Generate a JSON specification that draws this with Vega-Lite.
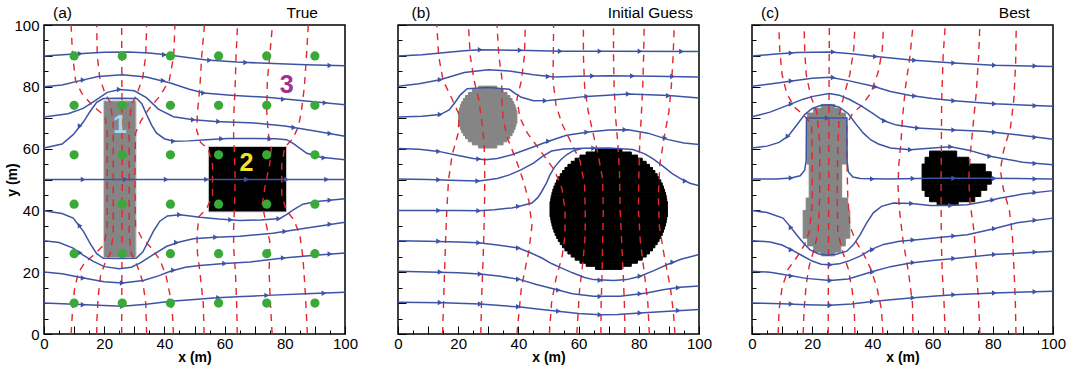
{
"$schema": "https://vega.github.io/schema/vega-lite/v6.json",
"padding": {"left": 5, "top": 5, "right": 5, "bottom": 3},
"spacing": 53,
"bounds": "flush",
"config": {
  "view": {"stroke": "#000", "strokeWidth": 1.5},
  "font": "Liberation Sans",
  "axis": {"labelFont": "Liberation Sans", "labelFontSize": 15, "labelColor": "#000", "titleFont": "Liberation Sans", "titleFontSize": 14, "titleFontWeight": "bold", "titleColor": "#000", "tickColor": "#000", "grid": false, "domain": false}
},
"datasets": {
"shapes": [
{"p":"a","k":"g","x":19.8,"x2":30.6,"y":24.7,"y2":75.5},
{"p":"a","k":"k","x":54.6,"x2":80.6,"y":39.5,"y2":60.7},
{"p":"b","k":"g","x":26.77,"x2":32.83,"y":60.2,"y2":61.2},
{"p":"b","k":"g","x":24.69,"x2":34.91,"y":61.2,"y2":62.2},
{"p":"b","k":"g","x":23.38,"x2":36.22,"y":62.2,"y2":63.2},
{"p":"b","k":"g","x":22.43,"x2":37.17,"y":63.2,"y2":64.2},
{"p":"b","k":"g","x":21.7,"x2":37.9,"y":64.2,"y2":65.2},
{"p":"b","k":"g","x":21.14,"x2":38.46,"y":65.2,"y2":66.2},
{"p":"b","k":"g","x":20.71,"x2":38.89,"y":66.2,"y2":67.2},
{"p":"b","k":"g","x":20.41,"x2":39.19,"y":67.2,"y2":68.2},
{"p":"b","k":"g","x":20.1,"x2":39.5,"y":68.2,"y2":72.2},
{"p":"b","k":"g","x":20.41,"x2":39.19,"y":72.2,"y2":73.2},
{"p":"b","k":"g","x":20.71,"x2":38.89,"y":73.2,"y2":74.2},
{"p":"b","k":"g","x":21.14,"x2":38.46,"y":74.2,"y2":75.2},
{"p":"b","k":"g","x":21.7,"x2":37.9,"y":75.2,"y2":76.2},
{"p":"b","k":"g","x":22.43,"x2":37.17,"y":76.2,"y2":77.2},
{"p":"b","k":"g","x":23.38,"x2":36.22,"y":77.2,"y2":78.2},
{"p":"b","k":"g","x":24.69,"x2":34.91,"y":78.2,"y2":79.2},
{"p":"b","k":"g","x":26.77,"x2":32.83,"y":79.2,"y2":80.2},
{"p":"b","k":"k","x":65.6,"x2":74.4,"y":20.9,"y2":21.9},
{"p":"b","k":"k","x":62.5,"x2":77.5,"y":21.9,"y2":22.9},
{"p":"b","k":"k","x":60.45,"x2":79.55,"y":22.9,"y2":23.9},
{"p":"b","k":"k","x":58.85,"x2":81.15,"y":23.9,"y2":24.9},
{"p":"b","k":"k","x":57.55,"x2":82.45,"y":24.9,"y2":25.9},
{"p":"b","k":"k","x":56.45,"x2":83.55,"y":25.9,"y2":26.9},
{"p":"b","k":"k","x":55.45,"x2":84.55,"y":26.9,"y2":27.9},
{"p":"b","k":"k","x":54.65,"x2":85.35,"y":27.9,"y2":28.9},
{"p":"b","k":"k","x":53.9,"x2":86.1,"y":28.9,"y2":29.9},
{"p":"b","k":"k","x":53.25,"x2":86.75,"y":29.9,"y2":30.9},
{"p":"b","k":"k","x":52.7,"x2":87.3,"y":30.9,"y2":31.9},
{"p":"b","k":"k","x":52.2,"x2":87.8,"y":31.9,"y2":32.9},
{"p":"b","k":"k","x":51.8,"x2":88.2,"y":32.9,"y2":33.9},
{"p":"b","k":"k","x":51.45,"x2":88.55,"y":33.9,"y2":34.9},
{"p":"b","k":"k","x":51.15,"x2":88.85,"y":34.9,"y2":35.9},
{"p":"b","k":"k","x":50.9,"x2":89.1,"y":35.9,"y2":36.9},
{"p":"b","k":"k","x":50.75,"x2":89.25,"y":36.9,"y2":37.9},
{"p":"b","k":"k","x":50.5,"x2":89.5,"y":37.9,"y2":42.9},
{"p":"b","k":"k","x":50.75,"x2":89.25,"y":42.9,"y2":43.9},
{"p":"b","k":"k","x":50.9,"x2":89.1,"y":43.9,"y2":44.9},
{"p":"b","k":"k","x":51.15,"x2":88.85,"y":44.9,"y2":45.9},
{"p":"b","k":"k","x":51.45,"x2":88.55,"y":45.9,"y2":46.9},
{"p":"b","k":"k","x":51.8,"x2":88.2,"y":46.9,"y2":47.9},
{"p":"b","k":"k","x":52.2,"x2":87.8,"y":47.9,"y2":48.9},
{"p":"b","k":"k","x":52.7,"x2":87.3,"y":48.9,"y2":49.9},
{"p":"b","k":"k","x":53.25,"x2":86.75,"y":49.9,"y2":50.9},
{"p":"b","k":"k","x":53.9,"x2":86.1,"y":50.9,"y2":51.9},
{"p":"b","k":"k","x":54.65,"x2":85.35,"y":51.9,"y2":52.9},
{"p":"b","k":"k","x":55.45,"x2":84.55,"y":52.9,"y2":53.9},
{"p":"b","k":"k","x":56.45,"x2":83.55,"y":53.9,"y2":54.9},
{"p":"b","k":"k","x":57.55,"x2":82.45,"y":54.9,"y2":55.9},
{"p":"b","k":"k","x":58.85,"x2":81.15,"y":55.9,"y2":56.9},
{"p":"b","k":"k","x":60.45,"x2":79.55,"y":56.9,"y2":57.9},
{"p":"b","k":"k","x":62.5,"x2":77.5,"y":57.9,"y2":58.9},
{"p":"b","k":"k","x":65.6,"x2":74.4,"y":58.9,"y2":59.9},
{"p":"c","k":"g","x":23,"x2":27.5,"y":73,"y2":74.3},
{"p":"c","k":"g","x":20.5,"x2":29.5,"y":71.5,"y2":73},
{"p":"c","k":"g","x":18.5,"x2":31,"y":70,"y2":71.5},
{"p":"c","k":"g","x":18.3,"x2":31.5,"y":55,"y2":70},
{"p":"c","k":"g","x":19,"x2":29.8,"y":44,"y2":55},
{"p":"c","k":"g","x":18,"x2":31.8,"y":40,"y2":44},
{"p":"c","k":"g","x":17,"x2":32.5,"y":31,"y2":40},
{"p":"c","k":"g","x":18.5,"x2":31,"y":28.5,"y2":31},
{"p":"c","k":"g","x":20.5,"x2":29.5,"y":26.5,"y2":28.5},
{"p":"c","k":"g","x":23,"x2":27.5,"y":25.3,"y2":26.5},
{"p":"c","k":"k","x":59,"x2":68,"y":57.2,"y2":59.2},
{"p":"c","k":"k","x":57.5,"x2":72,"y":55,"y2":57.2},
{"p":"c","k":"k","x":56.5,"x2":77.5,"y":52.5,"y2":55},
{"p":"c","k":"k","x":56.5,"x2":79.5,"y":48.5,"y2":52.5},
{"p":"c","k":"k","x":56.5,"x2":78,"y":46.5,"y2":48.5},
{"p":"c","k":"k","x":57.5,"x2":76,"y":44.5,"y2":46.5},
{"p":"c","k":"k","x":59,"x2":74,"y":42.8,"y2":44.5},
{"p":"c","k":"k","x":61.5,"x2":68.5,"y":41.8,"y2":42.8}
],
"stream": [
{"p":"a","l":1,"x":0,"y":90},{"p":"a","l":1,"x":10,"y":90.6},{"p":"a","l":1,"x":20,"y":91.2},{"p":"a","l":1,"x":28,"y":91.3},{"p":"a","l":1,"x":35,"y":90.9},{"p":"a","l":1,"x":42,"y":90.2},{"p":"a","l":1,"x":54,"y":88.7},{"p":"a","l":1,"x":64,"y":88},{"p":"a","l":1,"x":74,"y":87.6},{"p":"a","l":1,"x":87,"y":87.1},{"p":"a","l":1,"x":100,"y":86.8},
{"p":"a","l":2,"x":0,"y":80},{"p":"a","l":2,"x":6,"y":80.6},{"p":"a","l":2,"x":12,"y":82},{"p":"a","l":2,"x":18,"y":83.3},{"p":"a","l":2,"x":26,"y":83.9},{"p":"a","l":2,"x":34,"y":83.2},{"p":"a","l":2,"x":42,"y":81.2},{"p":"a","l":2,"x":48,"y":79.3},{"p":"a","l":2,"x":53,"y":78},{"p":"a","l":2,"x":62,"y":77.3},{"p":"a","l":2,"x":74,"y":76.6},{"p":"a","l":2,"x":87,"y":75.4},{"p":"a","l":2,"x":100,"y":74.2},
{"p":"a","l":3,"x":0,"y":70.2},{"p":"a","l":3,"x":8,"y":71.3},{"p":"a","l":3,"x":13,"y":73},{"p":"a","l":3,"x":17,"y":75.5},{"p":"a","l":3,"x":21,"y":78.2},{"p":"a","l":3,"x":25.2,"y":79.1},{"p":"a","l":3,"x":30,"y":78.7},{"p":"a","l":3,"x":34,"y":76.5},{"p":"a","l":3,"x":38,"y":72.8},{"p":"a","l":3,"x":43,"y":70.3},{"p":"a","l":3,"x":49.6,"y":69.3},{"p":"a","l":3,"x":57,"y":68.8},{"p":"a","l":3,"x":70,"y":68.3},{"p":"a","l":3,"x":80,"y":67.3},{"p":"a","l":3,"x":89.5,"y":65.8},{"p":"a","l":3,"x":100,"y":64},
{"p":"a","l":4,"x":0,"y":60.2},{"p":"a","l":4,"x":6,"y":61.5},{"p":"a","l":4,"x":9.7,"y":64.5},{"p":"a","l":4,"x":13,"y":68.5},{"p":"a","l":4,"x":15.3,"y":72},{"p":"a","l":4,"x":17.5,"y":75},{"p":"a","l":4,"x":19.7,"y":76.2},{"p":"a","l":4,"x":25,"y":76.3},{"p":"a","l":4,"x":30.8,"y":76.2},{"p":"a","l":4,"x":32.5,"y":74.5},{"p":"a","l":4,"x":34.1,"y":71},{"p":"a","l":4,"x":35.8,"y":67.5},{"p":"a","l":4,"x":37.4,"y":65},{"p":"a","l":4,"x":40,"y":63.2},{"p":"a","l":4,"x":43,"y":62.4},{"p":"a","l":4,"x":48,"y":62.5},{"p":"a","l":4,"x":54,"y":62.9},{"p":"a","l":4,"x":61,"y":63.3},{"p":"a","l":4,"x":70,"y":63.3},{"p":"a","l":4,"x":77,"y":63.2},{"p":"a","l":4,"x":80.6,"y":62.9},{"p":"a","l":4,"x":83,"y":61.5},{"p":"a","l":4,"x":87.3,"y":58.5},{"p":"a","l":4,"x":92,"y":57.2},{"p":"a","l":4,"x":100,"y":56.4},
{"p":"a","l":5,"x":0,"y":50},{"p":"a","l":5,"x":100,"y":50},
{"p":"a","l":6,"x":0,"y":39.9},{"p":"a","l":6,"x":6,"y":39},{"p":"a","l":6,"x":9.7,"y":37.5},{"p":"a","l":6,"x":13.1,"y":33.2},{"p":"a","l":6,"x":15.5,"y":29},{"p":"a","l":6,"x":17.5,"y":26},{"p":"a","l":6,"x":19.7,"y":24.5},{"p":"a","l":6,"x":25,"y":24.4},{"p":"a","l":6,"x":30.6,"y":24.5},{"p":"a","l":6,"x":32.8,"y":26.5},{"p":"a","l":6,"x":34.1,"y":28.9},{"p":"a","l":6,"x":36.5,"y":33.5},{"p":"a","l":6,"x":38.5,"y":36.5},{"p":"a","l":6,"x":41,"y":38.2},{"p":"a","l":6,"x":45.2,"y":38.6},{"p":"a","l":6,"x":51.8,"y":37.8},{"p":"a","l":6,"x":58,"y":37.2},{"p":"a","l":6,"x":65.1,"y":36.7},{"p":"a","l":6,"x":72,"y":36.9},{"p":"a","l":6,"x":78.4,"y":37.4},{"p":"a","l":6,"x":80.8,"y":38.8},{"p":"a","l":6,"x":82.8,"y":40.2},{"p":"a","l":6,"x":86,"y":42},{"p":"a","l":6,"x":90.6,"y":42.9},{"p":"a","l":6,"x":100,"y":43.8},
{"p":"a","l":7,"x":0,"y":30.2},{"p":"a","l":7,"x":5,"y":29.6},{"p":"a","l":7,"x":9.7,"y":27.8},{"p":"a","l":7,"x":13,"y":25.5},{"p":"a","l":7,"x":16.4,"y":23.5},{"p":"a","l":7,"x":20,"y":21.8},{"p":"a","l":7,"x":25,"y":21.1},{"p":"a","l":7,"x":29,"y":21.6},{"p":"a","l":7,"x":32,"y":23},{"p":"a","l":7,"x":36.3,"y":25.7},{"p":"a","l":7,"x":40.8,"y":28.4},{"p":"a","l":7,"x":45,"y":29.8},{"p":"a","l":7,"x":49.6,"y":30.8},{"p":"a","l":7,"x":57,"y":31.3},{"p":"a","l":7,"x":65.1,"y":31.6},{"p":"a","l":7,"x":76,"y":32.6},{"p":"a","l":7,"x":87.3,"y":34.3},{"p":"a","l":7,"x":100,"y":36.2},
{"p":"a","l":8,"x":0,"y":20.1},{"p":"a","l":8,"x":6,"y":19.5},{"p":"a","l":8,"x":13.1,"y":18.1},{"p":"a","l":8,"x":20,"y":16.9},{"p":"a","l":8,"x":26,"y":16.5},{"p":"a","l":8,"x":33,"y":17.3},{"p":"a","l":8,"x":38,"y":18.8},{"p":"a","l":8,"x":42,"y":20.3},{"p":"a","l":8,"x":47,"y":21.6},{"p":"a","l":8,"x":51.8,"y":22.2},{"p":"a","l":8,"x":60,"y":22.8},{"p":"a","l":8,"x":68.4,"y":23.3},{"p":"a","l":8,"x":79.5,"y":24.6},{"p":"a","l":8,"x":90,"y":25.5},{"p":"a","l":8,"x":100,"y":26.2},
{"p":"a","l":9,"x":0,"y":10},{"p":"a","l":9,"x":10,"y":9.6},{"p":"a","l":9,"x":18,"y":9.3},{"p":"a","l":9,"x":26,"y":9},{"p":"a","l":9,"x":34,"y":9.6},{"p":"a","l":9,"x":42,"y":10.6},{"p":"a","l":9,"x":50,"y":11.2},{"p":"a","l":9,"x":57.4,"y":11.7},{"p":"a","l":9,"x":66,"y":12.1},{"p":"a","l":9,"x":74,"y":12.5},{"p":"a","l":9,"x":87,"y":13},{"p":"a","l":9,"x":100,"y":13.5},
{"p":"b","l":1,"x":0,"y":90},{"p":"b","l":1,"x":8,"y":90.4},{"p":"b","l":1,"x":15,"y":91},{"p":"b","l":1,"x":22,"y":91.7},{"p":"b","l":1,"x":27,"y":92},{"p":"b","l":1,"x":34,"y":91.9},{"p":"b","l":1,"x":40,"y":91.8},{"p":"b","l":1,"x":54,"y":91.5},{"p":"b","l":1,"x":70,"y":91.5},{"p":"b","l":1,"x":100,"y":91.4},
{"p":"b","l":2,"x":0,"y":80.2},{"p":"b","l":2,"x":7,"y":81},{"p":"b","l":2,"x":14,"y":82.3},{"p":"b","l":2,"x":22,"y":84.6},{"p":"b","l":2,"x":30,"y":85.5},{"p":"b","l":2,"x":37,"y":85.1},{"p":"b","l":2,"x":45,"y":83.9},{"p":"b","l":2,"x":52,"y":83.2},{"p":"b","l":2,"x":60,"y":83.4},{"p":"b","l":2,"x":70,"y":83.6},{"p":"b","l":2,"x":85,"y":83.4},{"p":"b","l":2,"x":100,"y":83.2},
{"p":"b","l":3,"x":0,"y":70.2},{"p":"b","l":3,"x":8,"y":70.5},{"p":"b","l":3,"x":14,"y":71},{"p":"b","l":3,"x":17,"y":72.5},{"p":"b","l":3,"x":19,"y":75},{"p":"b","l":3,"x":20.7,"y":77.4},{"p":"b","l":3,"x":23,"y":79.4},{"p":"b","l":3,"x":30,"y":79.8},{"p":"b","l":3,"x":37,"y":79.2},{"p":"b","l":3,"x":39,"y":77.8},{"p":"b","l":3,"x":41,"y":76.6},{"p":"b","l":3,"x":45,"y":75.5},{"p":"b","l":3,"x":50,"y":75.6},{"p":"b","l":3,"x":62.7,"y":76.9},{"p":"b","l":3,"x":76.5,"y":77.7},{"p":"b","l":3,"x":90,"y":77.2},{"p":"b","l":3,"x":100,"y":76.4},
{"p":"b","l":4,"x":0,"y":60},{"p":"b","l":4,"x":7,"y":59.8},{"p":"b","l":4,"x":13.5,"y":59.1},{"p":"b","l":4,"x":20,"y":57.8},{"p":"b","l":4,"x":25,"y":56.8},{"p":"b","l":4,"x":29,"y":56.4},{"p":"b","l":4,"x":33,"y":56.8},{"p":"b","l":4,"x":37.8,"y":58},{"p":"b","l":4,"x":44,"y":60.2},{"p":"b","l":4,"x":50,"y":62.4},{"p":"b","l":4,"x":56,"y":64.3},{"p":"b","l":4,"x":63.3,"y":65.4},{"p":"b","l":4,"x":70,"y":66},{"p":"b","l":4,"x":76.5,"y":66.1},{"p":"b","l":4,"x":83,"y":65},{"p":"b","l":4,"x":89.8,"y":62.9},{"p":"b","l":4,"x":95,"y":61.8},{"p":"b","l":4,"x":100,"y":61.3},
{"p":"b","l":5,"x":0,"y":50.2},{"p":"b","l":5,"x":10,"y":50},{"p":"b","l":5,"x":20,"y":49.7},{"p":"b","l":5,"x":27,"y":49.5},{"p":"b","l":5,"x":33,"y":50.3},{"p":"b","l":5,"x":37,"y":51.5},{"p":"b","l":5,"x":41,"y":53.2},{"p":"b","l":5,"x":45,"y":55.3},{"p":"b","l":5,"x":48,"y":57.5},{"p":"b","l":5,"x":51,"y":59.2},{"p":"b","l":5,"x":55,"y":59.9},{"p":"b","l":5,"x":62,"y":60.1},{"p":"b","l":5,"x":70,"y":60.2},{"p":"b","l":5,"x":78,"y":59.7},{"p":"b","l":5,"x":82,"y":58.3},{"p":"b","l":5,"x":85,"y":56.5},{"p":"b","l":5,"x":88,"y":54.3},{"p":"b","l":5,"x":91,"y":52},{"p":"b","l":5,"x":94,"y":50.2},{"p":"b","l":5,"x":97,"y":48.8},{"p":"b","l":5,"x":100,"y":48},
{"p":"b","l":6,"x":0,"y":40},{"p":"b","l":6,"x":10,"y":40},{"p":"b","l":6,"x":20,"y":40},{"p":"b","l":6,"x":26.8,"y":39.9},{"p":"b","l":6,"x":32,"y":40.2},{"p":"b","l":6,"x":37.8,"y":40.8},{"p":"b","l":6,"x":41,"y":41.5},{"p":"b","l":6,"x":44.5,"y":42.4},{"p":"b","l":6,"x":46.5,"y":44.2},{"p":"b","l":6,"x":47.8,"y":46.2},{"p":"b","l":6,"x":49.3,"y":48.8},{"p":"b","l":6,"x":50.5,"y":51.5},{"p":"b","l":6,"x":52,"y":54},{"p":"b","l":6,"x":54,"y":56.3},{"p":"b","l":6,"x":56,"y":58},{"p":"b","l":6,"x":58,"y":59.2},{"p":"b","l":6,"x":61,"y":60},
{"p":"b","l":7,"x":0,"y":30.2},{"p":"b","l":7,"x":10,"y":30},{"p":"b","l":7,"x":20,"y":29.8},{"p":"b","l":7,"x":26.8,"y":29.5},{"p":"b","l":7,"x":33,"y":28.8},{"p":"b","l":7,"x":40,"y":27.8},{"p":"b","l":7,"x":44,"y":26.3},{"p":"b","l":7,"x":47.8,"y":24.6},{"p":"b","l":7,"x":51,"y":22.8},{"p":"b","l":7,"x":54.4,"y":21.3},{"p":"b","l":7,"x":58,"y":19.8},{"p":"b","l":7,"x":62,"y":18.3},{"p":"b","l":7,"x":64.9,"y":17.6},{"p":"b","l":7,"x":71.6,"y":17.3},{"p":"b","l":7,"x":76,"y":17.6},{"p":"b","l":7,"x":80.4,"y":18.7},{"p":"b","l":7,"x":85,"y":20.5},{"p":"b","l":7,"x":89.3,"y":22.4},{"p":"b","l":7,"x":94,"y":24.2},{"p":"b","l":7,"x":100,"y":25.7},
{"p":"b","l":8,"x":0,"y":20.3},{"p":"b","l":8,"x":10,"y":20.1},{"p":"b","l":8,"x":20,"y":19.8},{"p":"b","l":8,"x":27.3,"y":19.4},{"p":"b","l":8,"x":34,"y":18.7},{"p":"b","l":8,"x":40.6,"y":17.6},{"p":"b","l":8,"x":46,"y":16},{"p":"b","l":8,"x":52.8,"y":14.3},{"p":"b","l":8,"x":58,"y":13},{"p":"b","l":8,"x":64.9,"y":12.2},{"p":"b","l":8,"x":73.8,"y":12.2},{"p":"b","l":8,"x":82.6,"y":13.3},{"p":"b","l":8,"x":88,"y":14.3},{"p":"b","l":8,"x":93.7,"y":15.1},{"p":"b","l":8,"x":100,"y":15.5},
{"p":"b","l":9,"x":0,"y":10.3},{"p":"b","l":9,"x":15,"y":10.1},{"p":"b","l":9,"x":27.3,"y":9.7},{"p":"b","l":9,"x":40.6,"y":8.7},{"p":"b","l":9,"x":47,"y":8},{"p":"b","l":9,"x":53.9,"y":7.3},{"p":"b","l":9,"x":60,"y":6.6},{"p":"b","l":9,"x":67.1,"y":6.2},{"p":"b","l":9,"x":73,"y":6.3},{"p":"b","l":9,"x":80.4,"y":6.8},{"p":"b","l":9,"x":90,"y":7.4},{"p":"b","l":9,"x":100,"y":7.9},
{"p":"c","l":1,"x":0,"y":90},{"p":"c","l":1,"x":8,"y":90.6},{"p":"c","l":1,"x":15,"y":91.1},{"p":"c","l":1,"x":25.9,"y":91.3},{"p":"c","l":1,"x":33,"y":90.7},{"p":"c","l":1,"x":40.3,"y":89.9},{"p":"c","l":1,"x":53.7,"y":88.6},{"p":"c","l":1,"x":67,"y":87.7},{"p":"c","l":1,"x":80.3,"y":87},{"p":"c","l":1,"x":100,"y":86.6},
{"p":"c","l":2,"x":0,"y":80.2},{"p":"c","l":2,"x":6,"y":80.9},{"p":"c","l":2,"x":12.6,"y":81.8},{"p":"c","l":2,"x":20,"y":82.8},{"p":"c","l":2,"x":25.9,"y":83.1},{"p":"c","l":2,"x":32,"y":82},{"p":"c","l":2,"x":40.3,"y":80.2},{"p":"c","l":2,"x":46,"y":78.5},{"p":"c","l":2,"x":52.6,"y":77.2},{"p":"c","l":2,"x":60,"y":76.2},{"p":"c","l":2,"x":67,"y":75.5},{"p":"c","l":2,"x":80.3,"y":74.5},{"p":"c","l":2,"x":100,"y":73.7},
{"p":"c","l":3,"x":0,"y":70.3},{"p":"c","l":3,"x":6,"y":71.8},{"p":"c","l":3,"x":12.6,"y":74.3},{"p":"c","l":3,"x":17,"y":76},{"p":"c","l":3,"x":20.3,"y":76.9},{"p":"c","l":3,"x":25.6,"y":77.8},{"p":"c","l":3,"x":29,"y":77.3},{"p":"c","l":3,"x":32.6,"y":75.8},{"p":"c","l":3,"x":36,"y":74},{"p":"c","l":3,"x":40,"y":71.5},{"p":"c","l":3,"x":43.7,"y":69},{"p":"c","l":3,"x":48,"y":67.6},{"p":"c","l":3,"x":54.8,"y":66.7},{"p":"c","l":3,"x":65,"y":66.1},{"p":"c","l":3,"x":77,"y":65.6},{"p":"c","l":3,"x":88,"y":64.5},{"p":"c","l":3,"x":100,"y":63},
{"p":"c","l":4,"x":0,"y":60.2},{"p":"c","l":4,"x":5,"y":60.8},{"p":"c","l":4,"x":9,"y":62},{"p":"c","l":4,"x":12,"y":64},{"p":"c","l":4,"x":15,"y":67.8},{"p":"c","l":4,"x":17.5,"y":71},{"p":"c","l":4,"x":20,"y":73},{"p":"c","l":4,"x":23,"y":74},{"p":"c","l":4,"x":26,"y":74.2},{"p":"c","l":4,"x":29,"y":73.4},{"p":"c","l":4,"x":32,"y":71.3},{"p":"c","l":4,"x":34.5,"y":68},{"p":"c","l":4,"x":37,"y":65},{"p":"c","l":4,"x":39.5,"y":62.8},{"p":"c","l":4,"x":42,"y":61.5},{"p":"c","l":4,"x":46,"y":60.2},{"p":"c","l":4,"x":52.6,"y":59.6},{"p":"c","l":4,"x":60,"y":60.2},{"p":"c","l":4,"x":66,"y":60.6},{"p":"c","l":4,"x":72,"y":59.5},{"p":"c","l":4,"x":79,"y":57.5},{"p":"c","l":4,"x":90,"y":55.6},{"p":"c","l":4,"x":100,"y":54.8},
{"p":"c","l":5,"x":0,"y":50.2},{"p":"c","l":5,"x":8,"y":50.2},{"p":"c","l":5,"x":13,"y":50.5},{"p":"c","l":5,"x":16,"y":51.2},{"p":"c","l":5,"x":17.5,"y":53},{"p":"c","l":5,"x":18,"y":56},{"p":"c","l":5,"x":18.1,"y":69.9},{"p":"c","l":5,"x":31.5,"y":69.9},{"p":"c","l":5,"x":31.6,"y":56},{"p":"c","l":5,"x":32,"y":52.5},{"p":"c","l":5,"x":33.5,"y":50.8},{"p":"c","l":5,"x":36,"y":50.3},{"p":"c","l":5,"x":45,"y":50.2},{"p":"c","l":5,"x":60,"y":50.4},{"p":"c","l":5,"x":75,"y":50.4},{"p":"c","l":5,"x":100,"y":50.2},
{"p":"c","l":6,"x":0,"y":40},{"p":"c","l":6,"x":5,"y":39.3},{"p":"c","l":6,"x":10.3,"y":37.5},{"p":"c","l":6,"x":12.5,"y":35},{"p":"c","l":6,"x":14.8,"y":32.1},{"p":"c","l":6,"x":17,"y":29.5},{"p":"c","l":6,"x":19.2,"y":27.3},{"p":"c","l":6,"x":22,"y":26},{"p":"c","l":6,"x":24.8,"y":25.5},{"p":"c","l":6,"x":28,"y":25.8},{"p":"c","l":6,"x":31.5,"y":26.8},{"p":"c","l":6,"x":33.8,"y":29},{"p":"c","l":6,"x":35.9,"y":32.1},{"p":"c","l":6,"x":38,"y":35.8},{"p":"c","l":6,"x":40.3,"y":39.2},{"p":"c","l":6,"x":43,"y":41.3},{"p":"c","l":6,"x":47,"y":42.4},{"p":"c","l":6,"x":53,"y":42.2},{"p":"c","l":6,"x":59.2,"y":41.6},{"p":"c","l":6,"x":65,"y":41.6},{"p":"c","l":6,"x":71.5,"y":41.8},{"p":"c","l":6,"x":77,"y":42.8},{"p":"c","l":6,"x":82.6,"y":44},{"p":"c","l":6,"x":90,"y":45.3},{"p":"c","l":6,"x":100,"y":46.4},
{"p":"c","l":7,"x":0,"y":30.2},{"p":"c","l":7,"x":6,"y":29.8},{"p":"c","l":7,"x":10,"y":28.8},{"p":"c","l":7,"x":13,"y":27.3},{"p":"c","l":7,"x":16.6,"y":25.4},{"p":"c","l":7,"x":20,"y":23.6},{"p":"c","l":7,"x":23,"y":22.6},{"p":"c","l":7,"x":25.9,"y":22.4},{"p":"c","l":7,"x":29,"y":22.7},{"p":"c","l":7,"x":32,"y":23.6},{"p":"c","l":7,"x":35.9,"y":25.2},{"p":"c","l":7,"x":39.5,"y":27.3},{"p":"c","l":7,"x":43.7,"y":29},{"p":"c","l":7,"x":49,"y":30},{"p":"c","l":7,"x":54.8,"y":30.5},{"p":"c","l":7,"x":63,"y":31.3},{"p":"c","l":7,"x":71.5,"y":32.1},{"p":"c","l":7,"x":80,"y":34},{"p":"c","l":7,"x":88.1,"y":36},{"p":"c","l":7,"x":100,"y":37.5},
{"p":"c","l":8,"x":0,"y":20.3},{"p":"c","l":8,"x":6,"y":20},{"p":"c","l":8,"x":12,"y":19},{"p":"c","l":8,"x":18,"y":18},{"p":"c","l":8,"x":25.9,"y":17.3},{"p":"c","l":8,"x":32,"y":17.8},{"p":"c","l":8,"x":40.4,"y":20.3},{"p":"c","l":8,"x":46,"y":21.8},{"p":"c","l":8,"x":52.6,"y":23},{"p":"c","l":8,"x":60,"y":23.8},{"p":"c","l":8,"x":67.3,"y":24.4},{"p":"c","l":8,"x":80.3,"y":25.7},{"p":"c","l":8,"x":100,"y":26.8},
{"p":"c","l":9,"x":0,"y":10},{"p":"c","l":9,"x":10,"y":9.8},{"p":"c","l":9,"x":18,"y":9.5},{"p":"c","l":9,"x":25.9,"y":9.3},{"p":"c","l":9,"x":33,"y":9.7},{"p":"c","l":9,"x":40,"y":10.5},{"p":"c","l":9,"x":47,"y":11.2},{"p":"c","l":9,"x":53.7,"y":11.7},{"p":"c","l":9,"x":60,"y":12.2},{"p":"c","l":9,"x":67,"y":12.7},{"p":"c","l":9,"x":80.3,"y":13.3},{"p":"c","l":9,"x":100,"y":13.8}
],
"dash": [
{"p":"a","l":1,"x":9,"y":100},{"p":"a","l":1,"x":9.5,"y":90},{"p":"a","l":1,"x":10.5,"y":82},{"p":"a","l":1,"x":12.5,"y":78},{"p":"a","l":1,"x":16,"y":74},{"p":"a","l":1,"x":20.3,"y":70.5},{"p":"a","l":1,"x":21,"y":65},{"p":"a","l":1,"x":21,"y":50},{"p":"a","l":1,"x":21,"y":35},{"p":"a","l":1,"x":20,"y":29},{"p":"a","l":1,"x":17,"y":26},{"p":"a","l":1,"x":13.5,"y":23},{"p":"a","l":1,"x":11.5,"y":20},{"p":"a","l":1,"x":10.2,"y":15},{"p":"a","l":1,"x":9.5,"y":8},{"p":"a","l":1,"x":9,"y":0},
{"p":"a","l":2,"x":17.5,"y":100},{"p":"a","l":2,"x":17.7,"y":90},{"p":"a","l":2,"x":18.5,"y":83},{"p":"a","l":2,"x":20.2,"y":78},{"p":"a","l":2,"x":22,"y":75},{"p":"a","l":2,"x":23,"y":68},{"p":"a","l":2,"x":23,"y":50},{"p":"a","l":2,"x":23,"y":32},{"p":"a","l":2,"x":22,"y":26},{"p":"a","l":2,"x":20.3,"y":23},{"p":"a","l":2,"x":18.8,"y":19},{"p":"a","l":2,"x":18,"y":12},{"p":"a","l":2,"x":17.6,"y":5},{"p":"a","l":2,"x":17.5,"y":0},
{"p":"a","l":3,"x":25.8,"y":100},{"p":"a","l":3,"x":25.9,"y":75},{"p":"a","l":3,"x":26,"y":50},{"p":"a","l":3,"x":25.9,"y":25},{"p":"a","l":3,"x":25.8,"y":0},
{"p":"a","l":4,"x":34.1,"y":100},{"p":"a","l":4,"x":33.8,"y":90},{"p":"a","l":4,"x":32.8,"y":83},{"p":"a","l":4,"x":31,"y":78},{"p":"a","l":4,"x":29,"y":74},{"p":"a","l":4,"x":28.3,"y":68},{"p":"a","l":4,"x":28.3,"y":50},{"p":"a","l":4,"x":28.3,"y":32},{"p":"a","l":4,"x":29,"y":26},{"p":"a","l":4,"x":31,"y":22},{"p":"a","l":4,"x":32.8,"y":17},{"p":"a","l":4,"x":33.8,"y":10},{"p":"a","l":4,"x":34.1,"y":0},
{"p":"a","l":5,"x":43.5,"y":100},{"p":"a","l":5,"x":43.1,"y":90},{"p":"a","l":5,"x":41.6,"y":82},{"p":"a","l":5,"x":38.5,"y":77},{"p":"a","l":5,"x":35,"y":73},{"p":"a","l":5,"x":32.2,"y":69},{"p":"a","l":5,"x":30.4,"y":65},{"p":"a","l":5,"x":30.2,"y":50},{"p":"a","l":5,"x":30.4,"y":35},{"p":"a","l":5,"x":32.5,"y":31},{"p":"a","l":5,"x":35.5,"y":28},{"p":"a","l":5,"x":38.5,"y":24},{"p":"a","l":5,"x":40.5,"y":19},{"p":"a","l":5,"x":42,"y":12},{"p":"a","l":5,"x":42.7,"y":6},{"p":"a","l":5,"x":43,"y":0},
{"p":"a","l":6,"x":53.3,"y":100},{"p":"a","l":6,"x":52.4,"y":90},{"p":"a","l":6,"x":51.8,"y":80},{"p":"a","l":6,"x":51,"y":72},{"p":"a","l":6,"x":50.7,"y":66},{"p":"a","l":6,"x":52,"y":62},{"p":"a","l":6,"x":54.5,"y":60},{"p":"a","l":6,"x":56,"y":55},{"p":"a","l":6,"x":56,"y":45},{"p":"a","l":6,"x":54,"y":40.5},{"p":"a","l":6,"x":51.5,"y":38},{"p":"a","l":6,"x":50.8,"y":32},{"p":"a","l":6,"x":51,"y":26},{"p":"a","l":6,"x":51.8,"y":20},{"p":"a","l":6,"x":52.9,"y":10},{"p":"a","l":6,"x":53.2,"y":0},
{"p":"a","l":7,"x":64.3,"y":100},{"p":"a","l":7,"x":63.8,"y":90},{"p":"a","l":7,"x":63.5,"y":80},{"p":"a","l":7,"x":63,"y":70},{"p":"a","l":7,"x":63,"y":64},{"p":"a","l":7,"x":63.3,"y":58},{"p":"a","l":7,"x":63.5,"y":50},{"p":"a","l":7,"x":63.3,"y":42},{"p":"a","l":7,"x":63,"y":34},{"p":"a","l":7,"x":63,"y":28},{"p":"a","l":7,"x":63.6,"y":20},{"p":"a","l":7,"x":64,"y":10},{"p":"a","l":7,"x":64.2,"y":0},
{"p":"a","l":8,"x":75.9,"y":100},{"p":"a","l":8,"x":75,"y":90},{"p":"a","l":8,"x":74.2,"y":82},{"p":"a","l":8,"x":74,"y":72},{"p":"a","l":8,"x":74.5,"y":65},{"p":"a","l":8,"x":75.5,"y":60},{"p":"a","l":8,"x":75,"y":55},{"p":"a","l":8,"x":73.5,"y":48},{"p":"a","l":8,"x":72.5,"y":42},{"p":"a","l":8,"x":73.5,"y":37},{"p":"a","l":8,"x":75,"y":30},{"p":"a","l":8,"x":74.8,"y":20},{"p":"a","l":8,"x":75.2,"y":10},{"p":"a","l":8,"x":75.8,"y":0},
{"p":"a","l":9,"x":87.8,"y":100},{"p":"a","l":9,"x":87.2,"y":90},{"p":"a","l":9,"x":86.5,"y":80},{"p":"a","l":9,"x":85.5,"y":72},{"p":"a","l":9,"x":84.5,"y":67},{"p":"a","l":9,"x":82.5,"y":63},{"p":"a","l":9,"x":80,"y":60.5},{"p":"a","l":9,"x":79,"y":55},{"p":"a","l":9,"x":79,"y":45},{"p":"a","l":9,"x":80.5,"y":40},{"p":"a","l":9,"x":83,"y":37},{"p":"a","l":9,"x":85,"y":32},{"p":"a","l":9,"x":86,"y":25},{"p":"a","l":9,"x":86.5,"y":18},{"p":"a","l":9,"x":87,"y":10},{"p":"a","l":9,"x":87.5,"y":0},
{"p":"b","l":1,"x":12.9,"y":100},{"p":"b","l":1,"x":13.5,"y":90},{"p":"b","l":1,"x":15,"y":82},{"p":"b","l":1,"x":17.5,"y":77},{"p":"b","l":1,"x":20.3,"y":71},{"p":"b","l":1,"x":20,"y":65},{"p":"b","l":1,"x":18,"y":58},{"p":"b","l":1,"x":16.8,"y":50},{"p":"b","l":1,"x":16.2,"y":40},{"p":"b","l":1,"x":15.8,"y":30},{"p":"b","l":1,"x":15.3,"y":15},{"p":"b","l":1,"x":14.8,"y":0},
{"p":"b","l":2,"x":23.4,"y":100},{"p":"b","l":2,"x":24,"y":90},{"p":"b","l":2,"x":25.3,"y":82},{"p":"b","l":2,"x":26.8,"y":76},{"p":"b","l":2,"x":27.8,"y":69},{"p":"b","l":2,"x":28.6,"y":62},{"p":"b","l":2,"x":28.8,"y":55},{"p":"b","l":2,"x":28.8,"y":45},{"p":"b","l":2,"x":28.6,"y":35},{"p":"b","l":2,"x":28.3,"y":25},{"p":"b","l":2,"x":27.8,"y":12},{"p":"b","l":2,"x":27.5,"y":0},
{"p":"b","l":3,"x":32.9,"y":100},{"p":"b","l":3,"x":33.5,"y":90},{"p":"b","l":3,"x":34.5,"y":83},{"p":"b","l":3,"x":34.5,"y":76},{"p":"b","l":3,"x":35,"y":69},{"p":"b","l":3,"x":36.5,"y":63},{"p":"b","l":3,"x":39,"y":57},{"p":"b","l":3,"x":41.5,"y":50},{"p":"b","l":3,"x":43.5,"y":43},{"p":"b","l":3,"x":44.5,"y":35},{"p":"b","l":3,"x":43.5,"y":27},{"p":"b","l":3,"x":41,"y":15},{"p":"b","l":3,"x":39.5,"y":0},
{"p":"b","l":4,"x":42.3,"y":100},{"p":"b","l":4,"x":42,"y":90},{"p":"b","l":4,"x":41,"y":82},{"p":"b","l":4,"x":39.5,"y":76},{"p":"b","l":4,"x":40.5,"y":70},{"p":"b","l":4,"x":43,"y":65},{"p":"b","l":4,"x":46,"y":61},{"p":"b","l":4,"x":49,"y":57},{"p":"b","l":4,"x":52,"y":53},{"p":"b","l":4,"x":54.5,"y":47},{"p":"b","l":4,"x":55.5,"y":40},{"p":"b","l":4,"x":55.5,"y":32},{"p":"b","l":4,"x":54.5,"y":25},{"p":"b","l":4,"x":52.5,"y":18},{"p":"b","l":4,"x":51,"y":10},{"p":"b","l":4,"x":50.3,"y":0},
{"p":"b","l":5,"x":51.7,"y":100},{"p":"b","l":5,"x":51.6,"y":90},{"p":"b","l":5,"x":51.5,"y":82},{"p":"b","l":5,"x":52.5,"y":74},{"p":"b","l":5,"x":54.5,"y":68},{"p":"b","l":5,"x":57.5,"y":62},{"p":"b","l":5,"x":60.5,"y":56},{"p":"b","l":5,"x":62,"y":48},{"p":"b","l":5,"x":62.2,"y":40},{"p":"b","l":5,"x":62.2,"y":32},{"p":"b","l":5,"x":61.5,"y":24},{"p":"b","l":5,"x":60.3,"y":14},{"p":"b","l":5,"x":59.4,"y":0},
{"p":"b","l":6,"x":61.6,"y":100},{"p":"b","l":6,"x":61.6,"y":90},{"p":"b","l":6,"x":62,"y":80},{"p":"b","l":6,"x":63.2,"y":72},{"p":"b","l":6,"x":64.8,"y":65},{"p":"b","l":6,"x":66.5,"y":58},{"p":"b","l":6,"x":68,"y":50},{"p":"b","l":6,"x":68.2,"y":40},{"p":"b","l":6,"x":68,"y":30},{"p":"b","l":6,"x":67.8,"y":20},{"p":"b","l":6,"x":67.5,"y":10},{"p":"b","l":6,"x":67.4,"y":0},
{"p":"b","l":7,"x":71.6,"y":100},{"p":"b","l":7,"x":71.6,"y":90},{"p":"b","l":7,"x":71.8,"y":80},{"p":"b","l":7,"x":72.3,"y":70},{"p":"b","l":7,"x":73,"y":62},{"p":"b","l":7,"x":73.6,"y":52},{"p":"b","l":7,"x":73.8,"y":40},{"p":"b","l":7,"x":74.3,"y":30},{"p":"b","l":7,"x":74.8,"y":20},{"p":"b","l":7,"x":75.2,"y":10},{"p":"b","l":7,"x":75.4,"y":0},
{"p":"b","l":8,"x":81.8,"y":100},{"p":"b","l":8,"x":81.6,"y":90},{"p":"b","l":8,"x":81.3,"y":80},{"p":"b","l":8,"x":80.8,"y":70},{"p":"b","l":8,"x":80.3,"y":62},{"p":"b","l":8,"x":80,"y":50},{"p":"b","l":8,"x":79.9,"y":40},{"p":"b","l":8,"x":80.5,"y":30},{"p":"b","l":8,"x":81.8,"y":20},{"p":"b","l":8,"x":83,"y":10},{"p":"b","l":8,"x":83.5,"y":0},
{"p":"b","l":9,"x":91.8,"y":100},{"p":"b","l":9,"x":91.4,"y":90},{"p":"b","l":9,"x":90.8,"y":80},{"p":"b","l":9,"x":90,"y":72},{"p":"b","l":9,"x":88.5,"y":64},{"p":"b","l":9,"x":87,"y":55},{"p":"b","l":9,"x":86.5,"y":45},{"p":"b","l":9,"x":86.8,"y":35},{"p":"b","l":9,"x":88.5,"y":25},{"p":"b","l":9,"x":90.5,"y":15},{"p":"b","l":9,"x":91.5,"y":7},{"p":"b","l":9,"x":92,"y":0},
{"p":"c","l":1,"x":8.9,"y":100},{"p":"c","l":1,"x":9.2,"y":92},{"p":"c","l":1,"x":10,"y":84},{"p":"c","l":1,"x":11.5,"y":78},{"p":"c","l":1,"x":14,"y":73.5},{"p":"c","l":1,"x":17,"y":71},{"p":"c","l":1,"x":19.8,"y":68},{"p":"c","l":1,"x":20,"y":55},{"p":"c","l":1,"x":20,"y":42},{"p":"c","l":1,"x":19,"y":33},{"p":"c","l":1,"x":17.5,"y":29},{"p":"c","l":1,"x":15,"y":25},{"p":"c","l":1,"x":12,"y":21},{"p":"c","l":1,"x":10,"y":15},{"p":"c","l":1,"x":9,"y":8},{"p":"c","l":1,"x":8.7,"y":0},
{"p":"c","l":2,"x":17.3,"y":100},{"p":"c","l":2,"x":17.5,"y":92},{"p":"c","l":2,"x":18,"y":84},{"p":"c","l":2,"x":19.5,"y":77},{"p":"c","l":2,"x":21.5,"y":72},{"p":"c","l":2,"x":22.5,"y":62},{"p":"c","l":2,"x":22.5,"y":45},{"p":"c","l":2,"x":22,"y":33},{"p":"c","l":2,"x":20.5,"y":27},{"p":"c","l":2,"x":19,"y":22},{"p":"c","l":2,"x":18,"y":16},{"p":"c","l":2,"x":17.3,"y":8},{"p":"c","l":2,"x":17,"y":0},
{"p":"c","l":3,"x":25.7,"y":100},{"p":"c","l":3,"x":25.6,"y":80},{"p":"c","l":3,"x":25.5,"y":50},{"p":"c","l":3,"x":25.4,"y":25},{"p":"c","l":3,"x":25.3,"y":0},
{"p":"c","l":4,"x":34.2,"y":100},{"p":"c","l":4,"x":33.8,"y":92},{"p":"c","l":4,"x":32.5,"y":84},{"p":"c","l":4,"x":30.5,"y":77},{"p":"c","l":4,"x":29,"y":71},{"p":"c","l":4,"x":28.5,"y":60},{"p":"c","l":4,"x":28.3,"y":45},{"p":"c","l":4,"x":28.5,"y":33},{"p":"c","l":4,"x":30,"y":27},{"p":"c","l":4,"x":32,"y":21},{"p":"c","l":4,"x":33.3,"y":14},{"p":"c","l":4,"x":34,"y":7},{"p":"c","l":4,"x":34.2,"y":0},
{"p":"c","l":5,"x":43.7,"y":100},{"p":"c","l":5,"x":43.3,"y":92},{"p":"c","l":5,"x":42,"y":85},{"p":"c","l":5,"x":39.5,"y":78},{"p":"c","l":5,"x":36.5,"y":74},{"p":"c","l":5,"x":33.5,"y":71.5},{"p":"c","l":5,"x":31.5,"y":68},{"p":"c","l":5,"x":31.5,"y":58},{"p":"c","l":5,"x":31.8,"y":45},{"p":"c","l":5,"x":32.5,"y":35},{"p":"c","l":5,"x":34.5,"y":30},{"p":"c","l":5,"x":37,"y":26},{"p":"c","l":5,"x":39.5,"y":21},{"p":"c","l":5,"x":41.5,"y":15},{"p":"c","l":5,"x":43,"y":8},{"p":"c","l":5,"x":43.5,"y":0},
{"p":"c","l":6,"x":53.5,"y":100},{"p":"c","l":6,"x":52.5,"y":90},{"p":"c","l":6,"x":51,"y":80},{"p":"c","l":6,"x":50,"y":70},{"p":"c","l":6,"x":49.5,"y":62},{"p":"c","l":6,"x":48.8,"y":55},{"p":"c","l":6,"x":48.5,"y":48},{"p":"c","l":6,"x":49,"y":40},{"p":"c","l":6,"x":50.2,"y":30},{"p":"c","l":6,"x":52,"y":20},{"p":"c","l":6,"x":53.3,"y":10},{"p":"c","l":6,"x":53.5,"y":0},
{"p":"c","l":7,"x":64.2,"y":100},{"p":"c","l":7,"x":63.5,"y":90},{"p":"c","l":7,"x":63,"y":75},{"p":"c","l":7,"x":62.9,"y":60},{"p":"c","l":7,"x":62.8,"y":45},{"p":"c","l":7,"x":62.9,"y":30},{"p":"c","l":7,"x":63.2,"y":20},{"p":"c","l":7,"x":63.8,"y":10},{"p":"c","l":7,"x":64.2,"y":0},
{"p":"c","l":8,"x":75.7,"y":100},{"p":"c","l":8,"x":75.3,"y":90},{"p":"c","l":8,"x":74.5,"y":78},{"p":"c","l":8,"x":73.3,"y":66},{"p":"c","l":8,"x":72.5,"y":58},{"p":"c","l":8,"x":72,"y":50},{"p":"c","l":8,"x":72.5,"y":42},{"p":"c","l":8,"x":73.8,"y":33},{"p":"c","l":8,"x":74.5,"y":22},{"p":"c","l":8,"x":75.3,"y":10},{"p":"c","l":8,"x":75.7,"y":0},
{"p":"c","l":9,"x":87.8,"y":100},{"p":"c","l":9,"x":87.6,"y":88},{"p":"c","l":9,"x":87,"y":76},{"p":"c","l":9,"x":85.9,"y":67},{"p":"c","l":9,"x":83.5,"y":59},{"p":"c","l":9,"x":82.5,"y":53},{"p":"c","l":9,"x":83.5,"y":47},{"p":"c","l":9,"x":85.5,"y":40},{"p":"c","l":9,"x":86.5,"y":32},{"p":"c","l":9,"x":87,"y":22},{"p":"c","l":9,"x":87.5,"y":10},{"p":"c","l":9,"x":87.7,"y":0}
],
"arrows": [
{"p":"a","x":12,"y":90.7},{"p":"a","x":40,"y":90.4},{"p":"a","x":55,"y":88.6},{"p":"a","x":67,"y":87.9},{"p":"a","x":95,"y":86.9},
{"p":"a","x":13,"y":82.2},{"p":"a","x":39.6,"y":82},{"p":"a","x":53,"y":78},{"p":"a","x":79.5,"y":76},{"p":"a","x":93.4,"y":74.8},
{"p":"a","x":25,"y":79.1},{"p":"a","x":49.6,"y":69.3},{"p":"a","x":58,"y":68.8},{"p":"a","x":83,"y":66.8},{"p":"a","x":95,"y":64.9},
{"p":"a","x":12,"y":67.3},{"p":"a","x":43,"y":62.4},{"p":"a","x":59,"y":63.2},{"p":"a","x":75,"y":63.2},{"p":"a","x":93,"y":57},
{"p":"a","x":13,"y":50},{"p":"a","x":27,"y":50},{"p":"a","x":40.6,"y":50},{"p":"a","x":54,"y":50},{"p":"a","x":67.3,"y":50},{"p":"a","x":80.6,"y":50},{"p":"a","x":93.9,"y":50},
{"p":"a","x":12,"y":35},{"p":"a","x":45,"y":38.6},{"p":"a","x":62,"y":37},{"p":"a","x":78,"y":37.3},{"p":"a","x":95,"y":43.3},
{"p":"a","x":12,"y":26.3},{"p":"a","x":44,"y":29.6},{"p":"a","x":57,"y":31.3},{"p":"a","x":80,"y":33.2},{"p":"a","x":95,"y":35.5},
{"p":"a","x":13,"y":18.1},{"p":"a","x":26,"y":16.5},{"p":"a","x":43,"y":20.6},{"p":"a","x":60,"y":22.8},{"p":"a","x":79.5,"y":24.6},{"p":"a","x":95,"y":25.9},
{"p":"a","x":13,"y":9.5},{"p":"a","x":26,"y":9},{"p":"a","x":42,"y":10.6},{"p":"a","x":58,"y":11.7},{"p":"a","x":74,"y":12.5},{"p":"a","x":93,"y":13.2},
{"p":"b","x":27.3,"y":92},{"p":"b","x":40.6,"y":91.8},{"p":"b","x":53.9,"y":91.5},{"p":"b","x":67.1,"y":91.5},{"p":"b","x":80.4,"y":91.5},{"p":"b","x":94.2,"y":91.4},
{"p":"b","x":14,"y":82.3},{"p":"b","x":49.9,"y":83.3},{"p":"b","x":64.6,"y":83.5},{"p":"b","x":77.9,"y":83.5},{"p":"b","x":91.2,"y":83.3},
{"p":"b","x":14,"y":71},{"p":"b","x":48.9,"y":75.5},{"p":"b","x":62.7,"y":76.9},{"p":"b","x":76.5,"y":77.7},{"p":"b","x":89.8,"y":77.1},
{"p":"b","x":13.5,"y":59.1},{"p":"b","x":26.8,"y":56.6},{"p":"b","x":50,"y":62.4},{"p":"b","x":62.7,"y":65.3},{"p":"b","x":75.4,"y":66.1},{"p":"b","x":88.7,"y":63.4},
{"p":"b","x":13.5,"y":49.9},{"p":"b","x":26.5,"y":49.5},{"p":"b","x":65,"y":60.1},{"p":"b","x":95.4,"y":49.5},
{"p":"b","x":13.5,"y":40},{"p":"b","x":26.8,"y":39.9},{"p":"b","x":40,"y":41.3},
{"p":"b","x":13.5,"y":30},{"p":"b","x":26.8,"y":29.5},{"p":"b","x":40,"y":27.8},{"p":"b","x":67.1,"y":17.4},{"p":"b","x":80.4,"y":18.7},{"p":"b","x":91.3,"y":23.2},
{"p":"b","x":14,"y":20.1},{"p":"b","x":27.3,"y":19.4},{"p":"b","x":40,"y":17.7},{"p":"b","x":53.3,"y":14.2},{"p":"b","x":67.1,"y":12.1},{"p":"b","x":80.4,"y":13},{"p":"b","x":93.1,"y":15},
{"p":"b","x":14,"y":10.2},{"p":"b","x":27.3,"y":9.7},{"p":"b","x":40,"y":8.8},{"p":"b","x":53.3,"y":7.4},{"p":"b","x":67.1,"y":6.2},{"p":"b","x":80.4,"y":6.8},{"p":"b","x":93.1,"y":7.6},
{"p":"c","x":13,"y":90.9},{"p":"c","x":27,"y":91.3},{"p":"c","x":41,"y":89.8},{"p":"c","x":54,"y":88.6},{"p":"c","x":67,"y":87.7},{"p":"c","x":80.5,"y":87},{"p":"c","x":94,"y":86.7},
{"p":"c","x":13,"y":81.9},{"p":"c","x":27,"y":83},{"p":"c","x":41,"y":80},{"p":"c","x":54,"y":77},{"p":"c","x":67,"y":75.5},{"p":"c","x":80.5,"y":74.5},{"p":"c","x":94,"y":73.9},
{"p":"c","x":13,"y":74.4},{"p":"c","x":44,"y":69},{"p":"c","x":55,"y":66.7},{"p":"c","x":67,"y":66},{"p":"c","x":80.5,"y":65.3},{"p":"c","x":94,"y":63.7},
{"p":"c","x":12,"y":64},{"p":"c","x":52.6,"y":59.6},{"p":"c","x":66,"y":60.6},{"p":"c","x":79,"y":57.5},{"p":"c","x":94,"y":55.2},
{"p":"c","x":13,"y":50.5},{"p":"c","x":25,"y":69.9},{"p":"c","x":40,"y":50.2},{"p":"c","x":53.5,"y":50.3},{"p":"c","x":67,"y":50.4},{"p":"c","x":80.5,"y":50.3},{"p":"c","x":94,"y":50.2},
{"p":"c","x":13,"y":34.5},{"p":"c","x":53,"y":42.2},{"p":"c","x":66,"y":41.6},{"p":"c","x":80,"y":43.4},{"p":"c","x":94,"y":45.8},
{"p":"c","x":13,"y":27.3},{"p":"c","x":26,"y":22.4},{"p":"c","x":40,"y":27.3},{"p":"c","x":53.5,"y":30.4},{"p":"c","x":67,"y":31.7},{"p":"c","x":80.5,"y":34.1},{"p":"c","x":94,"y":36.8},
{"p":"c","x":13,"y":18.8},{"p":"c","x":26,"y":17.3},{"p":"c","x":40,"y":20.1},{"p":"c","x":53.5,"y":23.1},{"p":"c","x":67,"y":24.4},{"p":"c","x":80.5,"y":25.7},{"p":"c","x":94,"y":26.5},
{"p":"c","x":13,"y":9.7},{"p":"c","x":26,"y":9.3},{"p":"c","x":40,"y":10.5},{"p":"c","x":53.5,"y":11.7},{"p":"c","x":67,"y":12.7},{"p":"c","x":80.5,"y":13.3},{"p":"c","x":94,"y":13.7}
],
"wells": [
{"x":10,"y":10},{"x":26,"y":10},{"x":42,"y":10},{"x":58,"y":10},{"x":74,"y":10},{"x":90,"y":10},
{"x":10,"y":26},{"x":26,"y":26},{"x":42,"y":26},{"x":58,"y":26},{"x":74,"y":26},{"x":90,"y":26},
{"x":10,"y":42},{"x":26,"y":42},{"x":42,"y":42},{"x":58,"y":42},{"x":74,"y":42},{"x":90,"y":42},
{"x":10,"y":58},{"x":26,"y":58},{"x":42,"y":58},{"x":58,"y":58},{"x":74,"y":58},{"x":90,"y":58},
{"x":10,"y":74},{"x":26,"y":74},{"x":42,"y":74},{"x":58,"y":74},{"x":74,"y":74},{"x":90,"y":74},
{"x":10,"y":90},{"x":26,"y":90},{"x":42,"y":90},{"x":58,"y":90},{"x":74,"y":90},{"x":90,"y":90}
],
"nums": [
{"x":25.2,"y":67.5,"t":"1"},{"x":67.3,"y":55.3,"t":"2"},{"x":80.6,"y":80.7,"t":"3"}
],
"heads": [
{"p":"a","s":"l","x":3,"y":100,"t":"(a)"},{"p":"a","s":"r","x":91,"y":100,"t":"True"},
{"p":"b","s":"l","x":4.5,"y":100,"t":"(b)"},{"p":"b","s":"r","x":98,"y":100,"t":"Initial Guess"},
{"p":"c","s":"l","x":3,"y":100,"t":"(c)"},{"p":"c","s":"r","x":92.3,"y":100,"t":"Best"}
]
},
"hconcat": [
{
 "width": 301, "height": 309,
 "resolve": {"scale": {"color": "independent"}},
 "encoding": {
  "x": {"field": "x", "type": "quantitative", "scale": {"domain": [0, 100], "nice": false, "zero": false}, "axis": {"title": "x (m)", "values": [0,5,10,15,20,25,30,35,40,45,50,55,60,65,70,75,80,85,90,95,100], "labelExpr": "datum.value % 20 === 0 ? datum.label : ''", "tickSize": {"condition": {"test": "datum.value % 10 === 0", "value": -8}, "value": -4}, "labelPadding": 10, "titlePadding": -5, "labelFlush": false, "labelOverlap": false}},
  "y": {"field": "y", "type": "quantitative", "scale": {"domain": [0, 100], "nice": false, "zero": false}, "axis": {"title": "y (m)", "values": [0,5,10,15,20,25,30,35,40,45,50,55,60,65,70,75,80,85,90,95,100], "labelExpr": "datum.value % 20 === 0 ? datum.label : ''", "tickSize": {"condition": {"test": "datum.value % 10 === 0", "value": -8}, "value": -4}, "labelPadding": 13, "titlePadding": -6, "labelFlush": false, "labelOverlap": false}}
 },
 "layer": [
  {"data": {"name": "shapes"}, "transform": [{"filter": "datum.p === 'a'"}], "mark": {"type": "rect", "stroke": "#d0d0d0", "strokeWidth": 1}, "encoding": {"x2": {"field": "x2"}, "y2": {"field": "y2"}, "color": {"field": "k", "type": "nominal", "scale": {"domain": ["g", "k"], "range": ["#858585", "#000000"]}, "legend": null}}},
  {"data": {"name": "dash"}, "transform": [{"filter": "datum.p === 'a'"}], "mark": {"type": "line", "color": "#e4262c", "strokeWidth": 1.4, "strokeDash": [7, 6]}, "encoding": {"detail": {"field": "l"}, "order": {"field": "y"}}},
  {"data": {"name": "stream"}, "transform": [{"filter": "datum.p === 'a'"}], "mark": {"type": "line", "color": "#3d54a5", "strokeWidth": 1.5}, "encoding": {"detail": {"field": "l"}, "order": {"field": "x"}}},
  {"data": {"name": "arrows"}, "transform": [{"filter": "datum.p === 'a'"}], "mark": {"type": "point", "shape": "triangle-right", "filled": true, "color": "#3d54a5", "size": 30, "opacity": 1}},
  {"data": {"name": "wells"}, "mark": {"type": "point", "shape": "circle", "filled": true, "color": "#3ba83a", "size": 85, "opacity": 1}},
  {"data": {"name": "nums"}, "mark": {"type": "text", "fontSize": 25, "fontWeight": "bold", "baseline": "middle", "align": "center"}, "encoding": {"text": {"field": "t"}, "color": {"field": "t", "type": "nominal", "scale": {"domain": ["1", "2", "3"], "range": ["#a9d8ea", "#f4e22a", "#a2308e"]}, "legend": null}}},
  {"data": {"name": "heads"}, "transform": [{"filter": "datum.p === 'a' && datum.s === 'l'"}], "mark": {"type": "text", "align": "left", "baseline": "alphabetic", "dy": -7, "fontSize": 15.5, "color": "#000"}, "encoding": {"text": {"field": "t"}}},
  {"data": {"name": "heads"}, "transform": [{"filter": "datum.p === 'a' && datum.s === 'r'"}], "mark": {"type": "text", "align": "right", "baseline": "alphabetic", "dy": -7, "fontSize": 15.5, "color": "#000"}, "encoding": {"text": {"field": "t"}}}
 ]
},
{
 "width": 301, "height": 309,
 "encoding": {
  "x": {"field": "x", "type": "quantitative", "scale": {"domain": [0, 100], "nice": false, "zero": false}, "axis": {"title": "x (m)", "values": [0,5,10,15,20,25,30,35,40,45,50,55,60,65,70,75,80,85,90,95,100], "labelExpr": "datum.value % 20 === 0 ? datum.label : ''", "tickSize": {"condition": {"test": "datum.value % 10 === 0", "value": -8}, "value": -4}, "labelPadding": 10, "titlePadding": -5, "labelFlush": false, "labelOverlap": false}},
  "y": {"field": "y", "type": "quantitative", "scale": {"domain": [0, 100], "nice": false, "zero": false}, "axis": {"title": null, "labels": false, "values": [0,5,10,15,20,25,30,35,40,45,50,55,60,65,70,75,80,85,90,95,100], "tickSize": {"condition": {"test": "datum.value % 10 === 0", "value": -8}, "value": -4}}}
 },
 "layer": [
  {"data": {"name": "shapes"}, "transform": [{"filter": "datum.p === 'b'"}], "mark": {"type": "rect", "strokeWidth": 1}, "encoding": {"x2": {"field": "x2"}, "y2": {"field": "y2"}, "color": {"field": "k", "type": "nominal", "scale": {"domain": ["g", "k"], "range": ["#858585", "#000000"]}, "legend": null}, "stroke": {"field": "k", "type": "nominal", "scale": {"domain": ["g", "k"], "range": ["#858585", "#000000"]}, "legend": null}}},
  {"data": {"name": "dash"}, "transform": [{"filter": "datum.p === 'b'"}], "mark": {"type": "line", "color": "#e4262c", "strokeWidth": 1.4, "strokeDash": [7, 6]}, "encoding": {"detail": {"field": "l"}, "order": {"field": "y"}}},
  {"data": {"name": "stream"}, "transform": [{"filter": "datum.p === 'b'"}], "mark": {"type": "line", "color": "#3d54a5", "strokeWidth": 1.5}, "encoding": {"detail": {"field": "l"}, "order": {"field": "x"}}},
  {"data": {"name": "arrows"}, "transform": [{"filter": "datum.p === 'b'"}], "mark": {"type": "point", "shape": "triangle-right", "filled": true, "color": "#3d54a5", "size": 30, "opacity": 1}},
  {"data": {"name": "heads"}, "transform": [{"filter": "datum.p === 'b' && datum.s === 'l'"}], "mark": {"type": "text", "align": "left", "baseline": "alphabetic", "dy": -7, "fontSize": 15.5, "color": "#000"}, "encoding": {"text": {"field": "t"}}},
  {"data": {"name": "heads"}, "transform": [{"filter": "datum.p === 'b' && datum.s === 'r'"}], "mark": {"type": "text", "align": "right", "baseline": "alphabetic", "dy": -7, "fontSize": 15.5, "color": "#000"}, "encoding": {"text": {"field": "t"}}}
 ]
},
{
 "width": 301, "height": 309,
 "encoding": {
  "x": {"field": "x", "type": "quantitative", "scale": {"domain": [0, 100], "nice": false, "zero": false}, "axis": {"title": "x (m)", "values": [0,5,10,15,20,25,30,35,40,45,50,55,60,65,70,75,80,85,90,95,100], "labelExpr": "datum.value % 20 === 0 ? datum.label : ''", "tickSize": {"condition": {"test": "datum.value % 10 === 0", "value": -8}, "value": -4}, "labelPadding": 10, "titlePadding": -5, "labelFlush": false, "labelOverlap": false}},
  "y": {"field": "y", "type": "quantitative", "scale": {"domain": [0, 100], "nice": false, "zero": false}, "axis": {"title": null, "labels": false, "values": [0,5,10,15,20,25,30,35,40,45,50,55,60,65,70,75,80,85,90,95,100], "tickSize": {"condition": {"test": "datum.value % 10 === 0", "value": -8}, "value": -4}}}
 },
 "layer": [
  {"data": {"name": "shapes"}, "transform": [{"filter": "datum.p === 'c'"}], "mark": {"type": "rect", "strokeWidth": 1}, "encoding": {"x2": {"field": "x2"}, "y2": {"field": "y2"}, "color": {"field": "k", "type": "nominal", "scale": {"domain": ["g", "k"], "range": ["#858585", "#000000"]}, "legend": null}, "stroke": {"field": "k", "type": "nominal", "scale": {"domain": ["g", "k"], "range": ["#858585", "#000000"]}, "legend": null}}},
  {"data": {"name": "dash"}, "transform": [{"filter": "datum.p === 'c'"}], "mark": {"type": "line", "color": "#e4262c", "strokeWidth": 1.4, "strokeDash": [7, 6]}, "encoding": {"detail": {"field": "l"}, "order": {"field": "y"}}},
  {"data": {"name": "stream"}, "transform": [{"filter": "datum.p === 'c'"}], "mark": {"type": "line", "color": "#3d54a5", "strokeWidth": 1.5}, "encoding": {"detail": {"field": "l"}, "order": {"field": "x"}}},
  {"data": {"name": "arrows"}, "transform": [{"filter": "datum.p === 'c'"}], "mark": {"type": "point", "shape": "triangle-right", "filled": true, "color": "#3d54a5", "size": 30, "opacity": 1}},
  {"data": {"name": "heads"}, "transform": [{"filter": "datum.p === 'c' && datum.s === 'l'"}], "mark": {"type": "text", "align": "left", "baseline": "alphabetic", "dy": -7, "fontSize": 15.5, "color": "#000"}, "encoding": {"text": {"field": "t"}}},
  {"data": {"name": "heads"}, "transform": [{"filter": "datum.p === 'c' && datum.s === 'r'"}], "mark": {"type": "text", "align": "right", "baseline": "alphabetic", "dy": -7, "fontSize": 15.5, "color": "#000"}, "encoding": {"text": {"field": "t"}}}
 ]
}
]
}
